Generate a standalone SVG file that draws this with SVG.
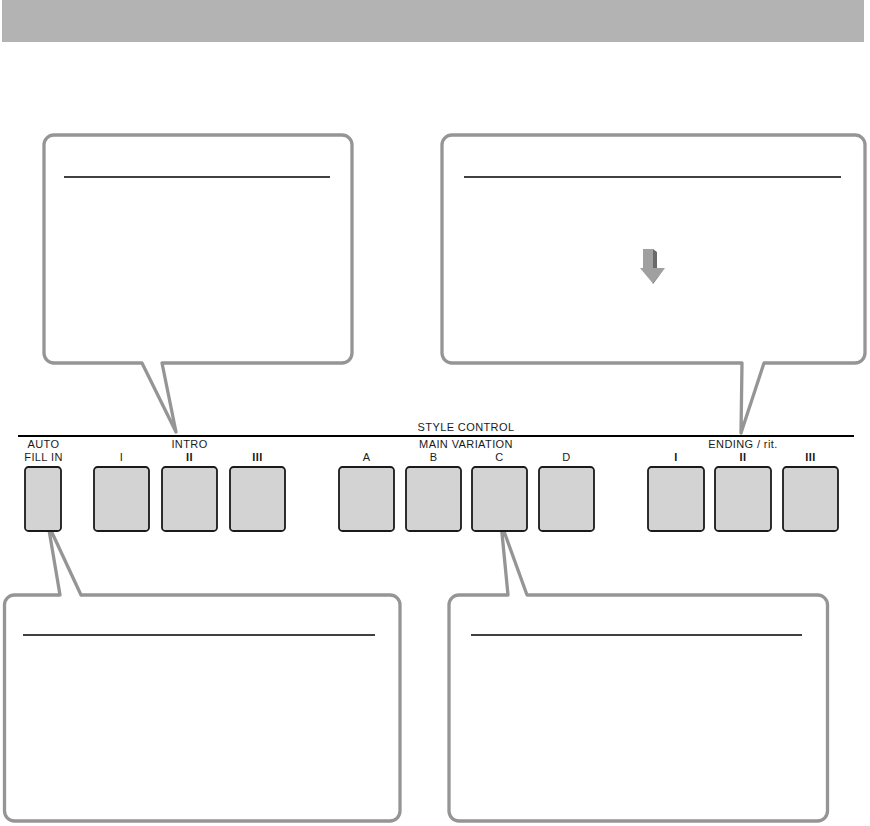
<svg xmlns="http://www.w3.org/2000/svg" width="870" height="826" viewBox="0 0 870 826">
  <style>
    .callout { fill: #ffffff; stroke: #959595; stroke-width: 3.3; stroke-linejoin: round; }
    .rule { stroke: #000000; stroke-width: 1.6; }
    .btn { fill: #d3d3d3; stroke: #1a1a1a; stroke-width: 1.8; }
    .lbl { font-family: "Liberation Sans", Arial, sans-serif; font-size: 11px; letter-spacing: 0.4px; fill: #1a1a1a; text-anchor: middle; }
    .num { font-weight: bold; }
  </style>
  <rect x="0" y="0" width="870" height="826" fill="#ffffff"/>
  <rect id="header" x="2" y="0" width="862" height="42" fill="#b3b3b3"/>

  <g id="callout-intro">
    <path class="callout" d="M 54 135 H 342 A 10 10 0 0 1 352 145 V 353 A 10 10 0 0 1 342 363 H 162 L 176 432 L 142 363 H 54 A 10 10 0 0 1 44 353 V 145 A 10 10 0 0 1 54 135 Z"/>
    <line class="rule" x1="64" y1="177" x2="330" y2="177"/>
  </g>

  <g id="callout-ending">
    <path class="callout" d="M 452 135 H 855 A 10 10 0 0 1 865 145 V 353 A 10 10 0 0 1 855 363 H 764 L 741 433 L 742 363 H 452 A 10 10 0 0 1 442 353 V 145 A 10 10 0 0 1 452 135 Z"/>
    <line class="rule" x1="464" y1="177" x2="841" y2="177"/>
    <g id="down-arrow">
      <polygon points="643,249 653,249 653,268 665,268 652.5,283 640,268 643,268" fill="#a0a0a0"/>
      <polygon points="653,249 657,252 657,268 665,268 653,284 652.5,283 665,268 653,268" fill="#6a6a6a"/>
    </g>
  </g>

  <g id="callout-autofill">
    <path class="callout" d="M 14.5 595 H 60 L 48 524 L 81 595 H 390 A 10 10 0 0 1 400 605 V 811 A 10 10 0 0 1 390 821 H 14.5 A 10 10 0 0 1 4.5 811 V 605 A 10 10 0 0 1 14.5 595 Z"/>
    <line class="rule" x1="23" y1="635" x2="375" y2="635"/>
  </g>

  <g id="callout-main">
    <path class="callout" d="M 459 595 H 508 L 501 523 L 527 595 H 817.5 A 10 10 0 0 1 827.5 605 V 811 A 10 10 0 0 1 817.5 821 H 459 A 10 10 0 0 1 449 811 V 605 A 10 10 0 0 1 459 595 Z"/>
    <line class="rule" x1="471" y1="635" x2="802" y2="635"/>
  </g>

  <g id="connectors">
    <line id="style-control-line" x1="18" y1="436" x2="854" y2="436" stroke="#000000" stroke-width="2"/>
  </g>

  <g id="labels">
    <text class="lbl" x="466" y="431">STYLE CONTROL</text>
    <text class="lbl" x="43.5" y="448">AUTO</text>
    <text class="lbl" x="43.5" y="461">FILL IN</text>
    <text class="lbl" x="189.5" y="448">INTRO</text>
    <text class="lbl" x="466" y="448">MAIN VARIATION</text>
    <text class="lbl" x="743" y="448">ENDING / rit.</text>
  </g>

  <g id="btn-autofill"><rect class="btn" x="25" y="467" width="36" height="64" rx="3.5"/></g>
  <g id="btn-intro-1"><rect class="btn" x="94" y="467" width="55" height="64" rx="3.5"/><text class="lbl" x="121.5" y="461">I</text></g>
  <g id="btn-intro-2"><rect class="btn" x="162" y="467" width="55" height="64" rx="3.5"/><text class="lbl num" x="189.5" y="461">II</text></g>
  <g id="btn-intro-3"><rect class="btn" x="230" y="467" width="55" height="64" rx="3.5"/><text class="lbl num" x="257.5" y="461">III</text></g>
  <g id="btn-main-a"><rect class="btn" x="339" y="467" width="55" height="64" rx="3.5"/><text class="lbl" x="366.5" y="461">A</text></g>
  <g id="btn-main-b"><rect class="btn" x="406" y="467" width="55" height="64" rx="3.5"/><text class="lbl" x="433.5" y="461">B</text></g>
  <g id="btn-main-c"><rect class="btn" x="472" y="467" width="55" height="64" rx="3.5"/><text class="lbl" x="499.5" y="461">C</text></g>
  <g id="btn-main-d"><rect class="btn" x="539" y="467" width="55" height="64" rx="3.5"/><text class="lbl" x="566.5" y="461">D</text></g>
  <g id="btn-ending-1"><rect class="btn" x="648" y="467" width="56" height="64" rx="3.5"/><text class="lbl num" x="676" y="461">I</text></g>
  <g id="btn-ending-2"><rect class="btn" x="715" y="467" width="56" height="64" rx="3.5"/><text class="lbl num" x="743" y="461">II</text></g>
  <g id="btn-ending-3"><rect class="btn" x="783" y="467" width="55" height="64" rx="3.5"/><text class="lbl num" x="810.5" y="461">III</text></g>
</svg>
